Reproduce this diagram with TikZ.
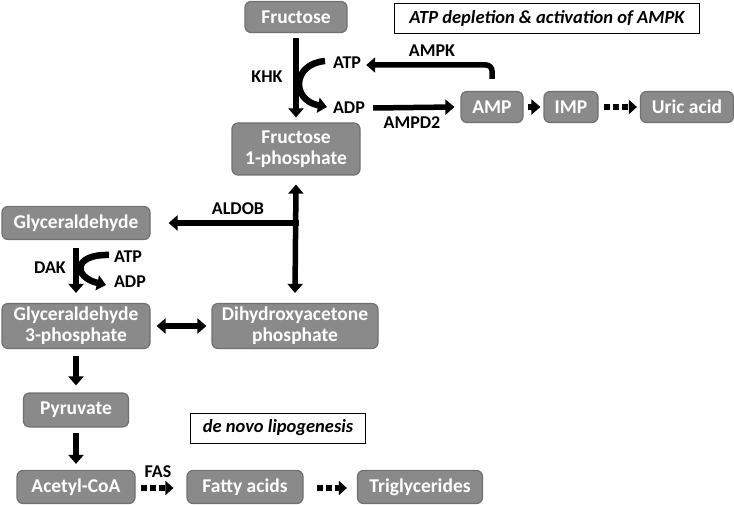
\documentclass[tikz,border=0pt]{standalone}
\usepackage{fontspec}
\setmainfont{Carlito}
\usetikzlibrary{arrows.meta}
\definecolor{boxfill}{RGB}{138,138,138}
\definecolor{boxdraw}{RGB}{112,112,112}
\begin{document}
\begin{tikzpicture}[x=1pt,y=-1pt,
  mol/.style={draw=boxdraw,fill=boxfill,line width=1.2pt,rounded corners=6pt,text=white,
    font=\fontsize{19.5}{21}\selectfont\bfseries,inner sep=0pt,align=center},
  note/.style={draw=black,fill=white,line width=0.7pt,inner sep=0pt,
    font=\fontsize{18.5}{20}\selectfont\bfseries\itshape},
  lab/.style={font=\fontsize{18}{20}\selectfont\bfseries,inner sep=0pt},
  arr/.style={line width=5.5pt,-{Triangle[length=9pt,width=15pt]}},
  darr/.style={line width=5.5pt,{Triangle[length=9pt,width=15pt]}-{Triangle[length=9pt,width=15pt]}},
  carr/.style={line width=6.5pt,-{Triangle[length=9pt,width=15pt]}},
  dsh/.style={line width=5.5pt,dash pattern=on 6pt off 3pt,-{Triangle[length=8pt,width=14pt]}}]
\useasboundingbox (0,0) rectangle (734,505);
% nodes
\node[mol,minimum width=102pt,minimum height=31pt] (fru) at (296,17) {Fructose};
\node[note,minimum width=305pt,minimum height=30pt] (atpd) at (547,18) {ATP depletion \& activation of AMPK};
\node[mol,minimum width=128pt,minimum height=52pt] (f1p) at (296,149) {Fructose\\1-phosphate};
\node[mol,minimum width=62pt,minimum height=31pt] (amp) at (492,107) {AMP};
\node[mol,minimum width=54pt,minimum height=31pt] (imp) at (571,107) {IMP};
\node[mol,minimum width=93pt,minimum height=31pt] (uric) at (687,107) {Uric acid};
\node[mol,minimum width=148pt,minimum height=33pt] (gly) at (76,223) {Glyceraldehyde};
\node[mol,minimum width=148pt,minimum height=45pt] (g3p) at (76,326) {Glyceraldehyde\\3-phosphate};
\node[mol,minimum width=166pt,minimum height=45pt] (dhap) at (295,326) {Dihydroxyacetone\\phosphate};
\node[mol,minimum width=105pt,minimum height=34pt] (pyr) at (76,410) {Pyruvate};
\node[note,minimum width=175pt,minimum height=30pt] (dnl) at (278,428) {de novo lipogenesis};
\node[mol,minimum width=118pt,minimum height=33pt] (acoa) at (76,487) {Acetyl-CoA};
\node[mol,minimum width=116pt,minimum height=33pt] (fa) at (245,487) {Fatty acids};
\node[mol,minimum width=125pt,minimum height=33pt] (tg) at (420,487) {Triglycerides};
% labels
\node[lab] (khk) at (267,77) {KHK};
\node[lab] (atp1) at (347,63) {ATP};
\node[lab] (adp1) at (349,108) {ADP};
\node[lab] (ampk) at (432,51) {AMPK};
\node[lab] (ampd2) at (412,123) {AMPD2};
\node[lab] (aldob) at (238,209) {ALDOB};
\node[lab] (dak) at (50,268) {DAK};
\node[lab] (atp2) at (128,257) {ATP};
\node[lab] (adp2) at (130,282) {ADP};
\node[lab] (fas) at (158,472) {FAS};
% coordinates
\coordinate (ampup) at (492,79);
\coordinate (ampcorner) at (492,65);
\coordinate (branch) at (296,223);
\coordinate (khks) at (325,61);
\coordinate (khke) at (327,107);
\coordinate (daks) at (109,255);
\coordinate (dake) at (106,285);
% connectors
\draw[arr] ([yshift=-5pt]fru.south) -- ([yshift=5pt]f1p.north);
\draw[carr] (khks) .. controls (292,64) and (291,100) .. (khke);
\draw[line width=5.5pt,-{Triangle[length=9pt,width=15pt]},rounded corners=6pt] (ampup) -- (ampcorner) -- ([xshift=5pt]atp1.east |- ampcorner);
\draw[arr] ([xshift=8pt]adp1.east) -- ([xshift=-6pt]amp.west);
\draw[arr] ([xshift=4pt]amp.east) -- ([xshift=-3pt]imp.west);
\draw[dsh] ([xshift=5pt]imp.east) -- ([xshift=-3pt]uric.west);
\draw[darr] ([yshift=-9pt]f1p.south) -- ([yshift=10pt]dhap.north);
\draw[arr] ([xshift=2.75pt]branch) -- ([xshift=18pt]gly.east);
\draw[arr] ([yshift=-8pt]gly.south) -- ([yshift=10pt]g3p.north);
\draw[carr] (daks) .. controls (73,254) and (73,277) .. (dake);
\draw[darr] ([xshift=6pt]g3p.east) -- ([xshift=-5pt]dhap.west);
\draw[arr] ([yshift=-7pt]g3p.south) -- ([yshift=7pt]pyr.north);
\draw[arr] ([yshift=-5pt]pyr.south) -- ([yshift=6pt]acoa.north);
\draw[dsh] ([xshift=5pt,yshift=-1pt]acoa.east) -- ([xshift=-13pt,yshift=-1pt]fa.west);
\draw[dsh] ([xshift=13pt,yshift=-1pt]fa.east) -- ([xshift=-10pt,yshift=-1pt]tg.west);
\end{tikzpicture}
\end{document}
